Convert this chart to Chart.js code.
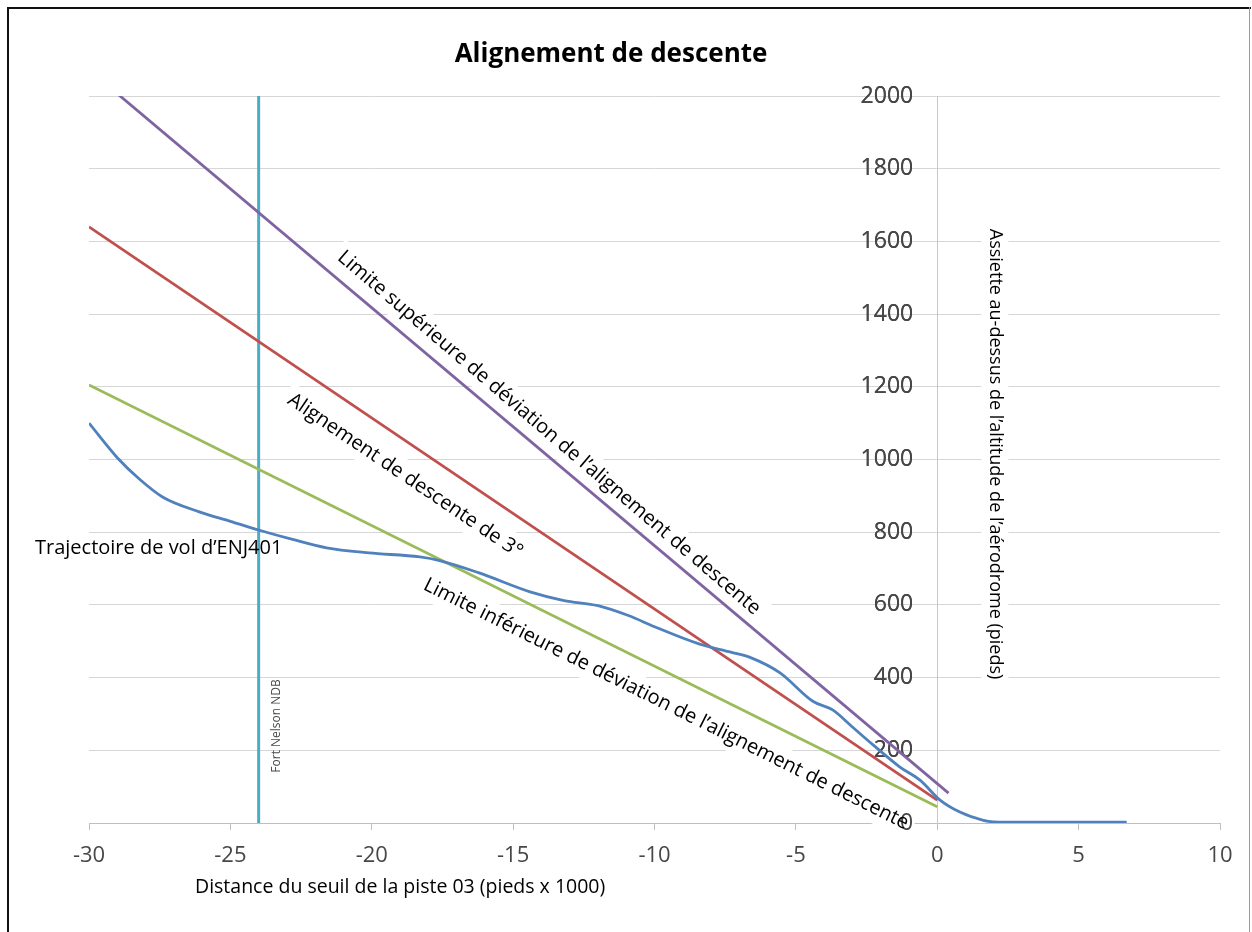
<!DOCTYPE html>
<html>
<head>
<meta charset="utf-8">
<script src="https://cdn.jsdelivr.net/npm/chart.js@4.4.1/dist/chart.umd.min.js"></script>
<style>
html, body { margin: 0; padding: 0; background: #fff; }
canvas { display: block; }
</style>
</head>
<body>
<canvas id="graphe" width="1252" height="932"></canvas>
<script>
// valeurs (distance en milliers de pieds, hauteur en pieds)
const xTicks = [-30, -25, -20, -15, -10, -5, 0, 5, 10];
const yTicks = [0, 200, 400, 600, 800, 1000, 1200, 1400, 1600, 1800, 2000];

const limiteSupX = [-30, 0.4];
const limiteSupY = [2072, 82];
const alignementX = [-30, 0];
const alignementY = [1640, 63];
const limiteInfX = [-30, 0];
const limiteInfY = [1205, 45];
const ndbX = [-24, -24];
const ndbY = [0, 2000];

const volX = [-30, -29.0, -28.2, -27.4, -26.1, -25, -24, -22.8, -21.6, -20.1, -18.3, -17.6, -16.2, -14.4, -13.2, -12.0, -10.9, -10.0, -8.4, -7.3, -6.6, -5.56, -4.4, -3.7, -3.0, -2.27, -1.32, -0.61, 0.1, 0.8, 1.6, 2.0, 3, 5, 6.7];
const volY = [1100, 1005, 945, 897, 856, 830, 806, 780, 757, 743, 732, 722, 688, 636, 612, 598, 570, 540, 492, 470, 455, 413, 335, 311, 264, 215, 154, 118, 63, 30, 8, 3, 2, 2, 2];

const police = "'Open Sans', 'Noto Sans', sans-serif";

function pts(xs, ys) {
    return xs.map((x, i) => ({ x: x, y: ys[i] }));
}

// textes posés sur le graphique (position en unités des axes)
const notes = [
    { txt: "Limite supérieure de déviation de l’alignement de descente", x: -13.73, y: 1073, angle: 40.5, size: 20 },
    { txt: "Alignement de descente de 3°", x: -18.82, y: 955, angle: 34, size: 20 },
    { txt: "Limite inférieure de déviation de l’alignement de descente", x: -9.59, y: 327, angle: 26.5, size: 20 },
    { txt: "Assiette au-dessus de l’altitude de l’aérodrome (pieds)", x: 2.04, y: 1015, angle: 90, size: 18 }
];

function placer(ctx, chart, n) {
    ctx.translate(chart.scales.x.getPixelForValue(n.x), chart.scales.y.getPixelForValue(n.y));
    ctx.rotate(n.angle * Math.PI / 180);
    ctx.font = n.size + "px " + police;
}

const annotations = {
    id: "annotations",
    beforeDatasetsDraw(chart) {
        const ctx = chart.ctx;
        // fonds blancs des zones de texte
        notes.forEach(n => {
            ctx.save();
            placer(ctx, chart, n);
            const w = ctx.measureText(n.txt).width;
            ctx.fillStyle = "#ffffff";
            ctx.fillRect(-w / 2 - 6, -n.size * 0.75, w + 12, n.size * 1.5);
            ctx.restore();
        });
        // les étiquettes de l'axe restent visibles sous le texte
        chart.scales.yEtiquettes.draw(chart.chartArea);
        notes.forEach(n => {
            ctx.save();
            placer(ctx, chart, n);
            ctx.fillStyle = "#000000";
            ctx.textAlign = "center";
            ctx.textBaseline = "middle";
            ctx.fillText(n.txt, 0, 0);
            ctx.restore();
        });
    },
    afterDraw(chart) {
        const ctx = chart.ctx;
        const sx = chart.scales.x, sy = chart.scales.y;
        ctx.save();
        // titre
        ctx.fillStyle = "#000";
        ctx.font = "bold 26px " + police;
        ctx.textAlign = "center";
        ctx.textBaseline = "middle";
        ctx.fillText("Alignement de descente", 611, 55);
        // titre de l'axe x
        ctx.font = "19.5px " + police;
        ctx.textAlign = "left";
        ctx.fillText("Distance du seuil de la piste 03 (pieds x 1000)", 195, 887);
        // trajectoire
        ctx.font = "20px " + police;
        ctx.fillText("Trajectoire de vol d’ENJ401", sx.getPixelForValue(-31.91), sy.getPixelForValue(757));
        // radiophare
        ctx.save();
        ctx.translate(sx.getPixelForValue(-23.35), sy.getPixelForValue(267));
        ctx.rotate(-Math.PI / 2);
        ctx.fillStyle = "#4a4a4a";
        ctx.font = "12px " + police;
        ctx.textAlign = "center";
        ctx.fillText("Fort Nelson NDB", 0, 0);
        ctx.restore();
        // cadre
        ctx.fillStyle = "#111";
        ctx.fillRect(7, 7, 1244, 2);
        ctx.fillRect(7, 7, 2, 925);
        ctx.fillStyle = "#9a9a9a";
        ctx.fillRect(1249, 7, 1, 925);
        ctx.restore();
    }
};

const ctx = document.getElementById("graphe").getContext("2d");
new Chart(ctx, {
    type: "scatter",
    data: {
        datasets: [
            { label: "Trajectoire de vol d’ENJ401", data: pts(volX, volY), borderColor: "#4f81bd", borderWidth: 2.8, cubicInterpolationMode: "monotone" },
            { label: "Limite supérieure", data: pts(limiteSupX, limiteSupY), borderColor: "#8064a2", borderWidth: 2.8 },
            { label: "Alignement de descente de 3°", data: pts(alignementX, alignementY), borderColor: "#c0504d", borderWidth: 2.8 },
            { label: "Limite inférieure", data: pts(limiteInfX, limiteInfY), borderColor: "#9bbb59", borderWidth: 2.8 },
            { label: "Fort Nelson NDB", data: pts(ndbX, ndbY), borderColor: "#4bacc6", borderWidth: 3 }
        ]
    },
    options: {
        responsive: false,
        animation: false,
        devicePixelRatio: 1,
        showLine: true,
        elements: { point: { radius: 0, hoverRadius: 0 } },
        layout: { padding: { left: 89, right: 32, top: 96, bottom: 49 } },
        plugins: { legend: { display: false }, tooltip: { enabled: false }, title: { display: false } },
        scales: {
            x: {
                type: "linear", position: "bottom", min: -30, max: 10,
                afterBuildTicks: s => { s.ticks = xTicks.map(v => ({ value: v })); },
                afterFit: s => { s.height = 60; },
                ticks: { color: "#474747", font: { family: police, size: 22 }, padding: 13, callback: v => String(v) },
                grid: { drawOnChartArea: false, drawTicks: true, tickLength: 7, color: "#bfbfbf" },
                border: { color: "#bfbfbf" }
            },
            y: {
                type: "linear", position: { x: 0 }, min: 0, max: 2000,
                afterBuildTicks: s => { s.ticks = yTicks.map(v => ({ value: v })); },
                ticks: { display: false },
                grid: { color: "#d6d6d6", drawTicks: false },
                border: { color: "#c8c8c8" }
            },
            // étiquettes de l'axe vertical, décalées à gauche de la ligne x = 0
            yEtiquettes: {
                type: "linear", axis: "y", position: { x: -0.85 }, min: 0, max: 2000,
                afterBuildTicks: s => { s.ticks = yTicks.map(v => ({ value: v })); },
                ticks: { color: "#474747", font: { family: police, size: 23 }, callback: v => String(v) },
                grid: { display: false },
                border: { display: false }
            }
        }
    },
    plugins: [annotations]
});
</script>
</body>
</html>
